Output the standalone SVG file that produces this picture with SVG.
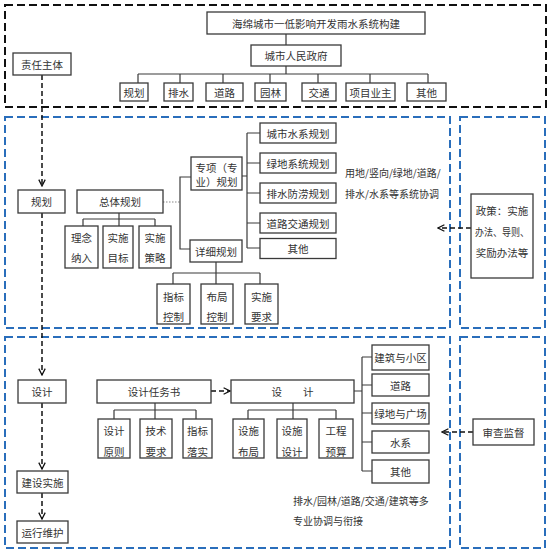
<svg xmlns="http://www.w3.org/2000/svg" width="550" height="552" viewBox="0 0 550 552">
<style>
.box{fill:#fff;stroke:#3a3a3a;stroke-width:1.3}
.t{font-family:"Noto Sans CJK SC","Noto Sans CJK JP",sans-serif;font-size:10.5px;fill:#333;text-anchor:middle;dominant-baseline:central}
.s{font-family:"Noto Sans CJK SC","Noto Sans CJK JP",sans-serif;font-size:10px;fill:#333;dominant-baseline:central}
.ln{stroke:#3a3a3a;stroke-width:1.2;fill:none}
.dot{stroke:#888;stroke-width:1.2;stroke-dasharray:1.5 1.5;fill:none}
.bk{stroke:#111;stroke-width:2;stroke-dasharray:8 4;fill:none}
.bl{stroke:#2a6ebb;stroke-width:2;stroke-dasharray:8 4;fill:none}
.da{stroke:#111;stroke-width:1.5;stroke-dasharray:5 3;fill:none;marker-end:url(#chev)}
</style>
<defs>
<marker id="chev" viewBox="0 0 10 10" refX="9" refY="5" markerWidth="8" markerHeight="8" markerUnits="userSpaceOnUse" orient="auto">
<path d="M1,1 L9,5 L1,9" fill="none" stroke="#111" stroke-width="1.6"/>
</marker>
</defs>
<rect width="550" height="552" fill="#fff"/>
<g id="regions">
<rect class="bk" x="5" y="5" width="541" height="102"/>
<rect class="bl" x="5" y="117" width="445" height="211"/>
<rect class="bl" x="460" y="117" width="85" height="211"/>
<rect class="bl" x="5" y="337" width="445" height="211"/>
<rect class="bl" x="460" y="337" width="85" height="211"/>
</g>
<g id="connectors">
<path class="ln" d="M286,34V45M286,66V74M138,74H428M138,74V83M180,74V83M223,74V83M270,74V83M318,74V83M370,74V83M428,74V83"/>
<path class="ln" d="M119,213V219M83,219H155M83,219V226M119,219V226M155,219V226"/>
<path class="dot" d="M163,202H180"/>
<path class="ln" d="M191,177H180V249H190"/>
<path class="ln" d="M216,262V273M173,273H260M173,273V284M216,273V284M260,273V284"/>
<path class="ln" d="M242,176H247M247,133V248M247,133H260M247,163H260M247,193H260M247,223H260M247,248H260"/>
<path class="ln" d="M155,403V410M114,410H196M114,410V419M155,410V419M196,410V419"/>
<path class="ln" d="M293,403V410M248,410H336M248,410V419M293,410V419M336,410V419"/>
<path class="ln" d="M354,391H362M362,357V471M362,357H372M362,385H372M362,413H372M362,442H372M362,471H372"/>
<path class="da" d="M42,75V186"/>
<path class="da" d="M42,213V375"/>
<path class="da" d="M42,403V469"/>
<path class="da" d="M42,493V519"/>
<path class="da" d="M211,391H230"/>
<path class="da" d="M471,228H438"/>
<path class="da" d="M473,432H442"/>
</g>
<g id="n-title"><rect class="box" x="207" y="12" width="218" height="22"/><text class="t" x="316" y="23">海绵城市一低影响开发雨水系统构建</text></g>
<g id="n-gov"><rect class="box" x="251" y="45" width="90" height="21"/><text class="t" x="296" y="55.5">城市人民政府</text></g>
<g id="n-d1"><rect class="box" x="120" y="83" width="28" height="18"/><text class="t" x="134" y="92">规划</text></g>
<g id="n-d2"><rect class="box" x="164" y="83" width="29" height="18"/><text class="t" x="178.5" y="92">排水</text></g>
<g id="n-d3"><rect class="box" x="206" y="83" width="37" height="18"/><text class="t" x="224.5" y="92">道路</text></g>
<g id="n-d4"><rect class="box" x="255" y="83" width="31" height="18"/><text class="t" x="270.5" y="92">园林</text></g>
<g id="n-d5"><rect class="box" x="302" y="83" width="34" height="18"/><text class="t" x="319" y="92">交通</text></g>
<g id="n-d6"><rect class="box" x="346" y="83" width="49" height="18"/><text class="t" x="370.5" y="92">项目业主</text></g>
<g id="n-d7"><rect class="box" x="407" y="83" width="39" height="18"/><text class="t" x="426.5" y="92">其他</text></g>
<g id="n-zr"><rect class="box" x="13" y="53" width="58" height="22"/><text class="t" x="42" y="64">责任主体</text></g>
<g id="n-gh"><rect class="box" x="18" y="190" width="47" height="23"/><text class="t" x="41.5" y="201.5">规划</text></g>
<g id="n-zt"><rect class="box" x="77" y="190" width="86" height="23"/><text class="t" x="120" y="201.5">总体规划</text></g>
<g id="n-ln"><rect class="box" x="65" y="226" width="33" height="42"/><text class="t" x="81.5" y="237">理念</text><text class="t" x="81.5" y="257">纳入</text></g>
<g id="n-mb"><rect class="box" x="103" y="226" width="30" height="42"/><text class="t" x="118" y="237">实施</text><text class="t" x="118" y="257">目标</text></g>
<g id="n-cl"><rect class="box" x="139" y="226" width="32" height="42"/><text class="t" x="155" y="237">实施</text><text class="t" x="155" y="257">策略</text></g>
<g id="n-zx"><rect class="box" x="191" y="157" width="51" height="33"/><text class="t" x="216.5" y="167">专项（专</text><text class="t" x="216.5" y="181">业）规划</text></g>
<g id="n-xx"><rect class="box" x="190" y="240" width="52" height="22"/><text class="t" x="216" y="251">详细规划</text></g>
<g id="n-zb"><rect class="box" x="157" y="284" width="33" height="40"/><text class="t" x="173.5" y="296">指标</text><text class="t" x="173.5" y="316">控制</text></g>
<g id="n-bj"><rect class="box" x="201" y="284" width="32" height="40"/><text class="t" x="217" y="296">布局</text><text class="t" x="217" y="316">控制</text></g>
<g id="n-yq"><rect class="box" x="245" y="284" width="33" height="40"/><text class="t" x="261.5" y="296">实施</text><text class="t" x="261.5" y="316">要求</text></g>
<g id="n-p1"><rect class="box" x="260" y="123" width="76" height="20"/><text class="t" x="298" y="133">城市水系规划</text></g>
<g id="n-p2"><rect class="box" x="260" y="153" width="76" height="20"/><text class="t" x="298" y="163">绿地系统规划</text></g>
<g id="n-p3"><rect class="box" x="260" y="183" width="76" height="20"/><text class="t" x="298" y="193">排水防涝规划</text></g>
<g id="n-p4"><rect class="box" x="260" y="213" width="76" height="20"/><text class="t" x="298" y="223">道路交通规划</text></g>
<g id="n-p5"><rect class="box" x="260" y="238.5" width="76" height="20"/><text class="t" x="298" y="248.5">其他</text></g>
<g id="note1"><text class="s" x="345" y="172">用地/竖向/绿地/道路/</text><text class="s" x="345" y="193">排水/水系等系统协调</text></g>
<g id="n-policy"><rect class="box" x="471" y="194" width="62" height="84"/><text class="t" x="502" y="210">政策：实施</text><text class="t" x="502" y="231" textLength="54" lengthAdjust="spacingAndGlyphs">办法、导则、</text><text class="t" x="502" y="252">奖励办法等</text></g>
<g id="n-sj"><rect class="box" x="18" y="380" width="48" height="23"/><text class="t" x="42" y="391.5">设计</text></g>
<g id="n-rws"><rect class="box" x="97" y="380" width="114" height="23"/><text class="t" x="154" y="391.5">设计任务书</text></g>
<g id="n-sj2"><rect class="box" x="231" y="380" width="123" height="23"/><text class="t" x="292.5" y="391.5">设　　计</text></g>
<g id="n-yz"><rect class="box" x="98" y="419" width="32" height="39"/><text class="t" x="114" y="430">设计</text><text class="t" x="114" y="451">原则</text></g>
<g id="n-js"><rect class="box" x="140" y="419" width="32" height="39"/><text class="t" x="156" y="430">技术</text><text class="t" x="156" y="451">要求</text></g>
<g id="n-ls"><rect class="box" x="183" y="419" width="29" height="39"/><text class="t" x="197.5" y="430">指标</text><text class="t" x="197.5" y="451">落实</text></g>
<g id="n-ssbj"><rect class="box" x="233" y="419" width="31" height="39"/><text class="t" x="248.5" y="430">设施</text><text class="t" x="248.5" y="451">布局</text></g>
<g id="n-sssj"><rect class="box" x="277" y="419" width="30" height="39"/><text class="t" x="292" y="430">设施</text><text class="t" x="292" y="451">设计</text></g>
<g id="n-gc"><rect class="box" x="319" y="419" width="34" height="39"/><text class="t" x="336" y="430">工程</text><text class="t" x="336" y="451">预算</text></g>
<g id="n-q1"><rect class="box" x="372" y="345" width="57" height="25"/><text class="t" x="400.5" y="357.5">建筑与小区</text></g>
<g id="n-q2"><rect class="box" x="372" y="374" width="57" height="22"/><text class="t" x="400.5" y="385">道路</text></g>
<g id="n-q3"><rect class="box" x="372" y="403" width="57" height="21"/><text class="t" x="400.5" y="413.5">绿地与广场</text></g>
<g id="n-q4"><rect class="box" x="372" y="431" width="57" height="22"/><text class="t" x="400.5" y="442">水系</text></g>
<g id="n-q5"><rect class="box" x="372" y="460" width="57" height="23"/><text class="t" x="400.5" y="471.5">其他</text></g>
<g id="note2"><text class="s" x="293" y="500">排水/园林/道路/交通/建筑等多</text><text class="s" x="293" y="520">专业协调与衔接</text></g>
<g id="n-sc"><rect class="box" x="473" y="419" width="61" height="26"/><text class="t" x="503.5" y="432">审查监督</text></g>
<g id="n-js2"><rect class="box" x="17" y="471" width="51" height="22"/><text class="t" x="42.5" y="482">建设实施</text></g>
<g id="n-yx"><rect class="box" x="17" y="521" width="51" height="22"/><text class="t" x="42.5" y="532">运行维护</text></g>
</svg>
